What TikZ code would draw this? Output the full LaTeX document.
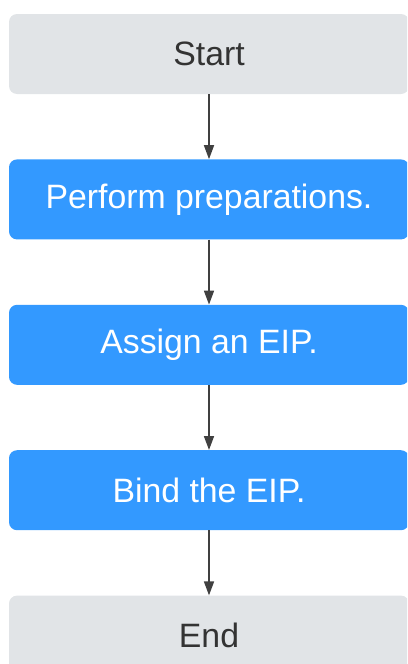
\documentclass[tikz,border=0pt]{standalone}
\usepackage{fontspec}
\setmainfont{Liberation Sans}
\usetikzlibrary{arrows.meta, positioning}
\definecolor{termgray}{HTML}{E1E4E7}
\definecolor{stepblue}{HTML}{3399FF}
\definecolor{linegray}{HTML}{404040}
\tikzset{%
	term/.style={rectangle, minimum width=400pt, minimum height=80pt,%
		rounded corners=8pt, fill=termgray, text=black!80, inner sep=0pt,%
		font=\fontsize{33.8}{40}\selectfont},
	stepbox/.style={term, fill=stepblue, text=white},
	flow/.style={-{Triangle[length=14pt,width=10pt]}, line width=1.6pt, draw=linegray}
}

\begin{document}
\begin{tikzpicture}[x=1pt, y=1pt, node distance=65pt]
	\clip (0,0) rectangle (407,-664);
	\useasboundingbox (0,0) rectangle (407,-664);

	\node[term] (start) at (209,-54) {Start};
	\node[stepbox, below=of start] (prep) {Perform preparations.};
	\node[stepbox, below=of prep] (assign) {Assign an EIP.};
	\node[stepbox, below=of assign] (bind) {Bind the EIP.};
	\node[term, below=of bind] (end) {End};

	\draw[flow] (start) -- (prep);
	\draw[flow] (prep) -- (assign);
	\draw[flow] (assign) -- (bind);
	\draw[flow] (bind) -- (end);
\end{tikzpicture}
\end{document}
